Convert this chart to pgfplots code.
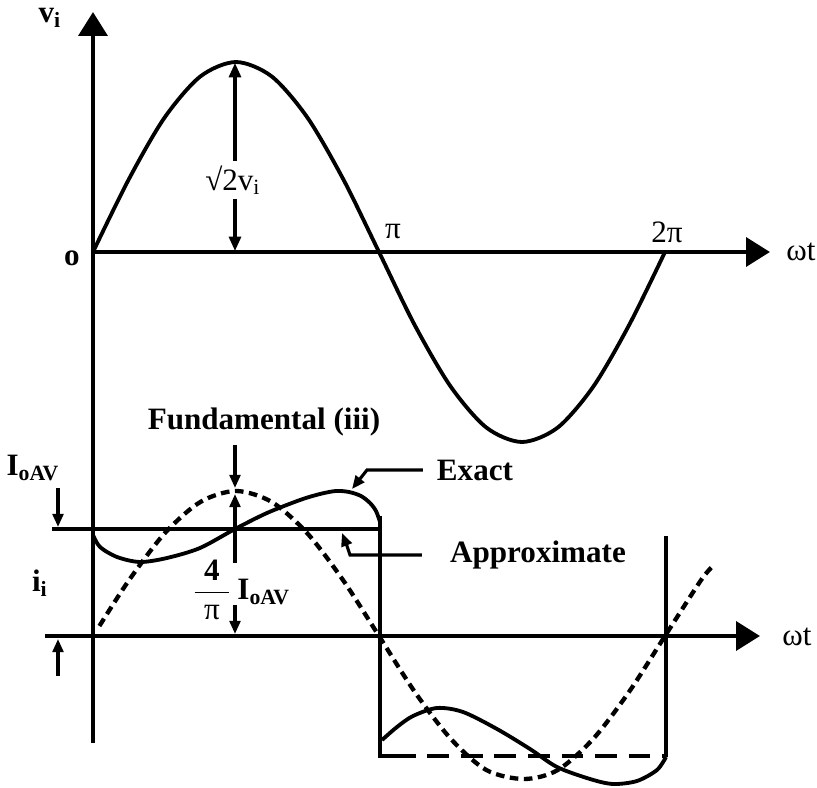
\documentclass[border=0pt]{standalone}
\usepackage{fontspec}
\setmainfont{Liberation Serif}
\usepackage{pgfplots}
\pgfplotsset{compat=1.18}
\usetikzlibrary{arrows.meta}

\tikzset{
  axisline/.style={line width=1.8pt, -{Triangle[length=10pt,width=12pt]}},
  curve/.style={line width=1.6pt, smooth},
  dimarrow/.style={line width=1.3pt, -{Triangle[length=5.5pt,width=4.5pt]}},
  leader/.style={line width=1.3pt, -{Triangle[length=5.5pt,width=4.5pt]}},
  lbl/.style={font=\fontsize{13}{15}\selectfont, inner sep=0pt}
}

\begin{document}
\begin{tikzpicture}
\begin{axis}[
  width=12cm, height=11.574cm, scale only axis,
  xmin=0, xmax=817, ymin=0, ymax=788, y dir=reverse,
  axis lines=none, clip=false, no marks]

\coordinate (bl) at (axis cs:0,788);
\coordinate (tr) at (axis cs:817,0);

% axes
\addplot[axisline] coordinates {(93,743) (93,12)};
\addplot[axisline] coordinates {(93,252) (770,252)};
\addplot[axisline] coordinates {(45,636) (760,636)};

% supply voltage v_i
\addplot[curve] coordinates {
  (93,252) (128.8,179.3) (164.5,117.7) (200.3,76.5) (236,62)
  (271.8,76.5) (307.5,117.7) (343.3,179.3) (379,252) (414.5,324.7)
  (450.5,386.3) (486.3,427.5) (522,442) (557.8,427.5) (593.5,386.3)
  (629.3,324.7) (665,252)};

% fundamental (dashed)
\addplot[line width=1.8pt, smooth, dash pattern=on 3.6pt off 2.3pt] coordinates {
  (99.4,626) (128.8,580.5) (164.5,533.5) (200.3,502) (236,491)
  (271.8,502) (307.5,533.5) (343.3,580.5) (379,636) (414.5,691.5)
  (450.5,738.5) (486.3,770) (524,779) (557.8,770) (593.5,738.5)
  (629.3,691.5) (665,636) (700.8,580.5) (713,566)};

% approximate square wave
\addplot[line width=1.6pt] coordinates {(52,529) (380,529)};
\addplot[line width=1.6pt] coordinates {(380,516) (380,756) (394,756)};
\addplot[line width=1.6pt, dash pattern=on 9pt off 5pt] coordinates {(394,756) (665,756)};
\addplot[line width=1.6pt] coordinates {(666,757) (666,536)};

% exact current
\addplot[curve] coordinates {
  (93,535) (100,547) (117,557) (140,562) (167,558) (200,548)
  (235,529) (267,513) (300,500) (320,494) (336,491) (349,492)
  (361,496) (370,503) (376,511) (380,522)};
\addplot[curve] coordinates {
  (382,740) (397,727) (413,716) (437,708) (463,712) (497,729)
  (530,749) (557,767) (590,779) (613,784) (637,781) (657,770)
  (666,757)};

% dimension arrows
\addplot[line width=1.3pt, {Triangle[length=6pt,width=5pt]}-{Triangle[length=6pt,width=5pt]}]
  coordinates {(235,63) (235,251)};
\addplot[dimarrow] coordinates {(235,445) (235,488)};
\addplot[dimarrow] coordinates {(235,563) (235,494)};
\addplot[dimarrow] coordinates {(235,605) (235,634)};
\addplot[dimarrow] coordinates {(58,488) (58,527)};
\addplot[dimarrow] coordinates {(58,676) (58,639)};

% leaders
\addplot[leader] coordinates {(423,470) (367,470) (352,489)};
\addplot[leader] coordinates {(422,555) (350,555) (347,546) (342,533)};

% labels
\node[lbl] at (axis cs:50,18) {\textbf{v}\textsubscript{\textbf{i}}};
\node[lbl] at (axis cs:72,258) {\textbf{o}};
\node[lbl] at (axis cs:393,232) {π};
\node[lbl] at (axis cs:667,232) {2π};
\node[lbl, anchor=west] at (axis cs:786,252) {ωt};
\node[lbl, anchor=west] at (axis cs:782,637) {ωt};
\node[lbl, fill=white, inner sep=2pt] at (axis cs:233,180) {√2v\textsubscript{i}};
\node[lbl] at (axis cs:264,422) {\textbf{Fundamental (iii)}};
\node[lbl] at (axis cs:475,470) {\textbf{Exact}};
\node[lbl] at (axis cs:538,555) {\textbf{Approximate}};
\node[lbl] at (axis cs:33,468) {\textbf{I}\textsubscript{\textbf{oAV}}};
\node[lbl] at (axis cs:40,583) {\textbf{i}\textsubscript{\textbf{i}}};
\node[lbl] at (axis cs:241,590) {$\displaystyle\frac{\mbox{\hspace{4pt}\bfseries 4\hspace{4pt}}}{\mbox{π}}$\,\textbf{I}\textsubscript{\textbf{oAV}}};
\end{axis}
\pgfresetboundingbox
\path (bl) rectangle (tr);
\end{tikzpicture}
\end{document}
